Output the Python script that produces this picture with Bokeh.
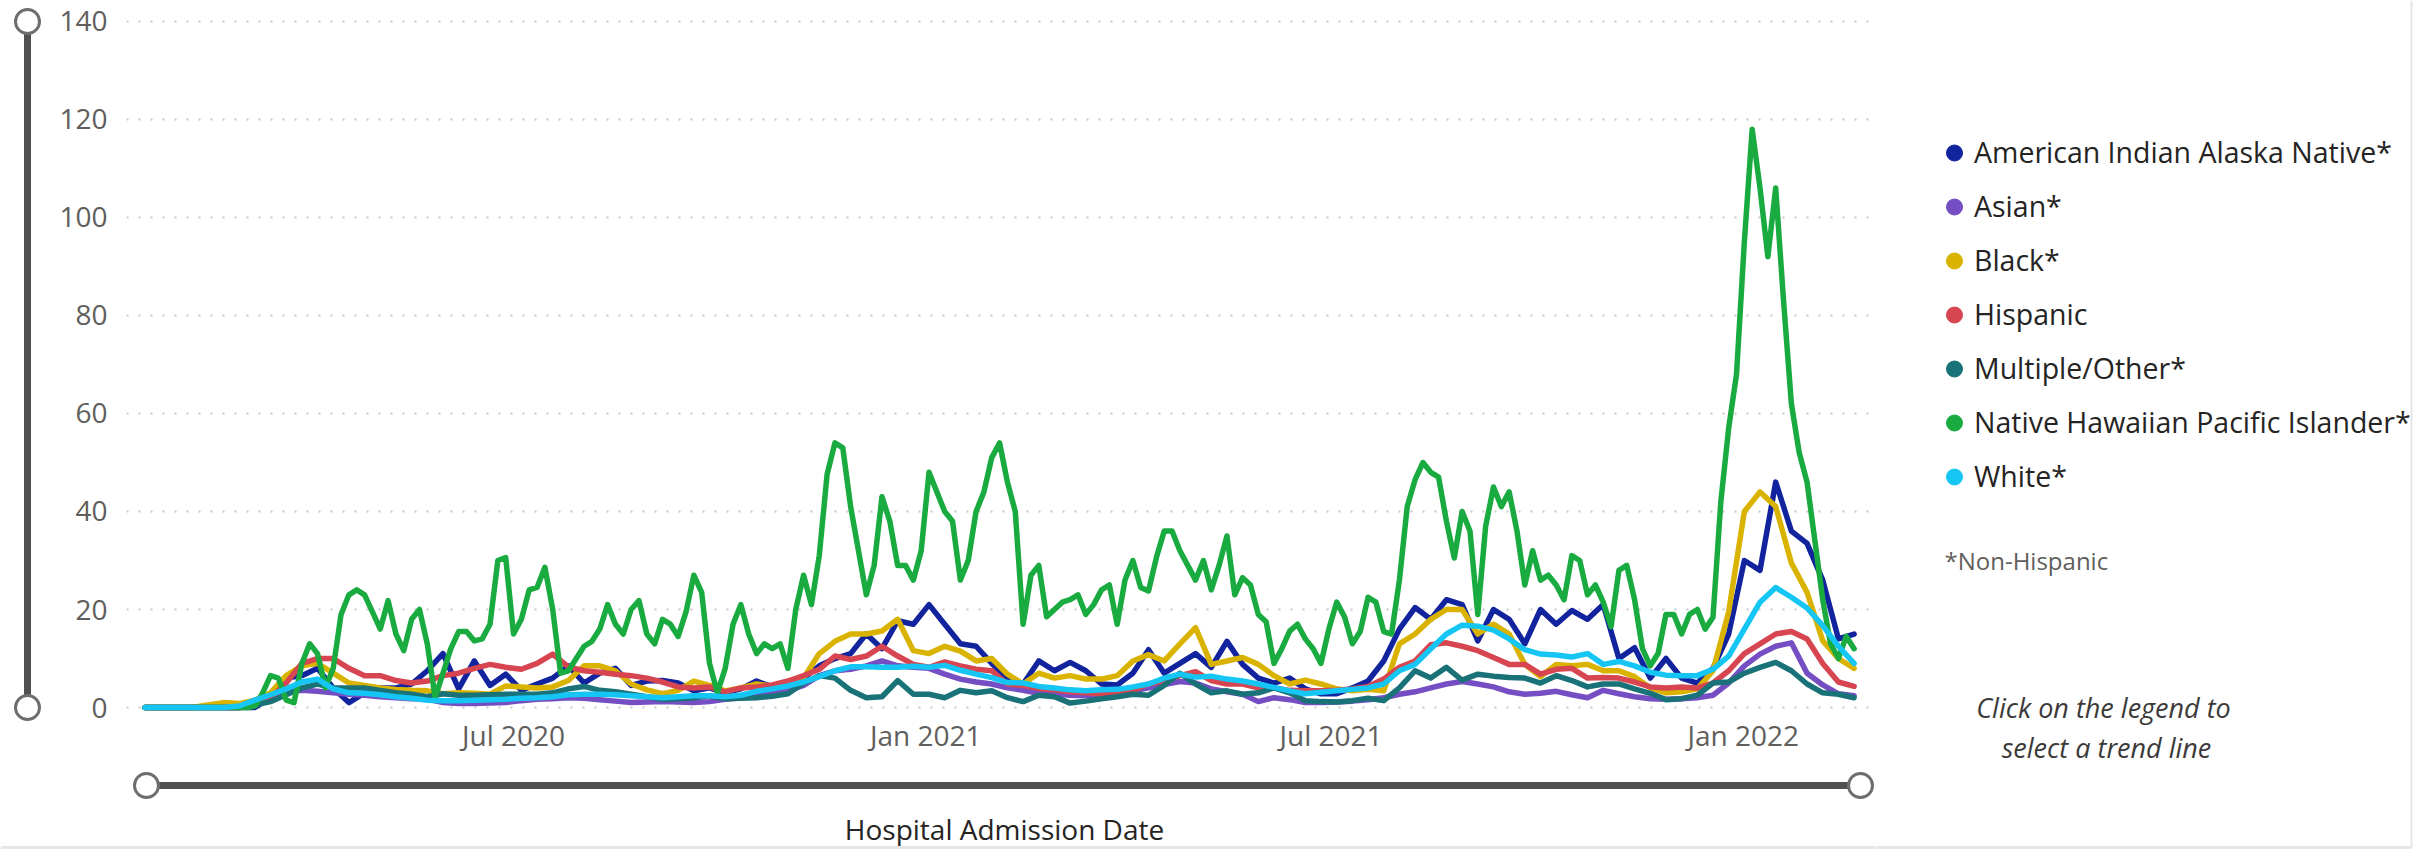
import pandas as pd
from bokeh.plotting import figure
from bokeh.models import (Range1d, FixedTicker, DatetimeTickFormatter, Legend,
                          LegendItem, ColumnDataSource)
from bokeh.layouts import row, column
from bokeh.embed import file_html
from bokeh.resources import INLINE
from bokeh.core.properties import value

FONT = "Open Sans"

# ---------------- data ----------------
series_names = ["American Indian Alaska Native*", "Asian*", "Black*", "Hispanic",
                "Multiple/Other*", "Native Hawaiian Pacific Islander*", "White*"]
series_colors = ["#12239E", "#744EC2", "#D9B300", "#D64550", "#197278", "#1AAB40", "#15C6F4"]

# weekly readings (starting 2020-01-18)
aian = [0, 0, 0, 0, 0, 0, 0, 0, 2, 6,
        6.5, 8, 4, 1, 3, 4, 4, 4.8, 7.5, 11,
        3.8, 9.5, 4.5, 6.8, 3.5, 4.8, 6, 8.5, 5, 7,
        8, 4.5, 5.4, 5.5, 5, 3.4, 4, 3, 3.8, 5.4,
        4.2, 4.2, 6, 8.5, 10, 11, 15, 12, 17.7, 17,
        21, 17, 13, 12.5, 9, 6, 4.8, 9.5, 7.5, 9.2,
        7.5, 4.8, 4.6, 7, 11.8, 7, 9, 11, 8.2, 13.5,
        8.8, 6, 5, 6, 3.8, 2.8, 2.8, 4, 5.4, 9.5,
        16, 20.4, 18, 22, 21, 13.6, 20, 18, 13, 20,
        17, 19.8, 18, 21, 10, 12.2, 6, 10, 6, 5,
        8, 15, 30, 28, 46, 36, 33.5, 26, 14, 15]
asian = [0, 0, 0, 0, 0, 0, 0, 1.5, 2.5, 3.2,
         3.5, 3.3, 3, 2.7, 2.5, 2.2, 2, 1.8, 1.7, 1,
         0.8, 0.8, 0.9, 1, 1.4, 1.7, 1.8, 2, 1.9, 1.6,
         1.3, 1, 1.1, 1.2, 1.1, 1, 1.2, 1.7, 2, 2.7,
         3, 3.4, 4.5, 6.5, 7.5, 7.8, 8.5, 9.5, 8.5, 8.2,
         8, 6.8, 5.8, 5.2, 4.8, 4, 3.5, 2.9, 2.7, 2.5,
         2.4, 2.5, 2.6, 3.4, 4, 4.7, 5.3, 5, 3.8, 3.2,
         2.7, 1.2, 2, 1.6, 1, 1, 1.1, 1.3, 1.6, 2,
         2.7, 3.2, 4, 4.8, 5.3, 4.8, 4.2, 3.2, 2.7, 2.9,
         3.3, 2.6, 2, 3.5, 2.8, 2.2, 1.8, 1.7, 1.8, 2,
         2.5, 5, 8.5, 10.9, 12.5, 13.2, 7, 4.6, 2.8, 2.4]
black = [0, 0, 0, 0, 0.5, 1, 0.8, 1.5, 3, 6.5,
         8.5, 9, 7, 5, 4.5, 4, 3.7, 3.5, 3.4, 2.8,
         3, 2.9, 2.7, 4.4, 4.2, 4, 4.2, 5.5, 8.5, 8.5,
         7.5, 4.8, 3.6, 2.8, 3.5, 5.4, 4.5, 3.4, 4, 4.8,
         4.4, 4.8, 6, 11, 13.5, 15, 15, 15.6, 18, 11.6,
         11, 12.5, 11.5, 9.5, 10, 6.8, 4.8, 7, 6, 6.5,
         5.8, 5.8, 6.5, 9.5, 10.8, 9.5, 13, 16.3, 8.8, 9.5,
         10.2, 8.8, 6.5, 4.8, 5.6, 4.8, 3.8, 3.4, 3.7, 3.4,
         13, 15, 18, 20, 20, 15, 17, 15, 8.8, 6.3,
         8.8, 8.5, 8.8, 7.5, 7.5, 6.3, 4, 3, 3.2, 3.8,
         7.5, 19.5, 40, 44, 41, 29.5, 23.5, 13.6, 10, 8]
hispanic = [0, 0, 0, 0, 0, 0, 0, 0.5, 2, 5,
            9, 10, 10, 8, 6.5, 6.5, 5.5, 5, 5.4, 6.5,
            7, 8, 8.8, 8.2, 7.8, 9, 10.9, 8.3, 7.5, 7.2,
            6.8, 6.5, 6, 5.2, 4.2, 4, 4.2, 3.2, 4, 4.2,
            4.6, 5.4, 6.5, 7.8, 10.5, 9.8, 10.5, 12.5, 10.5, 8.8,
            8.2, 9.3, 8.5, 7.8, 7.5, 4.8, 4.5, 3.9, 3.6, 3.2,
            3, 2.8, 2.8, 3.5, 4.8, 5.5, 6.5, 7.3, 5.5, 4.8,
            4.8, 4, 4, 3.5, 3.4, 3.4, 3.5, 3.8, 4.3, 5.8,
            8.2, 9.5, 12.8, 13.2, 12.5, 11.6, 10.2, 8.8, 8.8, 6.8,
            7.8, 8, 6, 6.1, 6, 5.2, 4.2, 4, 4.2, 4,
            5, 7.5, 11, 13, 15, 15.5, 14, 9, 5.2, 4.3]
multiple_other = [0, 0, 0, 0, 0, 0, 0, 0.5, 1.2, 2.6,
                  4, 4.8, 4, 4, 4, 3.5, 3, 2.7, 2.2, 2.8,
                  2.5, 2.5, 2.6, 2.7, 2.7, 2.7, 3, 3.8, 4.3, 3.5,
                  3.2, 2.7, 2.2, 1.7, 1.8, 2, 2.4, 1.8, 1.9, 2,
                  2.3, 2.8, 5, 6.5, 6, 3.5, 2, 2.2, 5.5, 2.7,
                  2.7, 2, 3.5, 3, 3.4, 2, 1.2, 2.5, 2.2, 0.9,
                  1.3, 1.8, 2.2, 2.7, 2.5, 4.5, 7, 4.8, 3, 3.4,
                  2.7, 3, 4, 3, 1.4, 1.2, 1.1, 1.4, 1.9, 1.4,
                  4, 7.5, 6, 8.2, 5.6, 6.8, 6.4, 6.1, 6, 5,
                  6.5, 5.5, 4.2, 4.8, 4.8, 3.8, 2.9, 1.6, 1.8, 2.5,
                  5, 5.2, 7, 8.2, 9.2, 7.5, 4.8, 3, 2.7, 2]
white = [0, 0, 0, 0, 0, 0, 0.3, 1.5, 2.6, 3.8,
         5.2, 5.8, 3.8, 3, 2.9, 2.6, 2.2, 1.9, 1.5, 1.4,
         1.4, 1.5, 1.6, 1.7, 1.9, 2, 2.2, 2.6, 2.7, 2.7,
         2.6, 2.4, 2.2, 2, 2.2, 2.4, 2.4, 2.2, 2.5, 3.3,
         3.8, 4.4, 5.2, 6.3, 7.5, 8.3, 8.3, 8.2, 8.2, 8.4,
         8.2, 8.6, 7.6, 6.8, 6.1, 5.1, 5, 4.3, 4, 3.6,
         3.4, 3.6, 3.7, 4.2, 4.8, 6, 6.8, 6.2, 6.4, 5.8,
         5.4, 4.8, 4.1, 3.4, 2.8, 3.1, 3.4, 3.7, 4, 4.8,
         7.5, 8.8, 12, 15, 16.8, 16.6, 15.8, 14, 11.8, 10.9,
         10.7, 10.3, 11, 8.8, 9.4, 8.5, 7.2, 6.6, 6.5, 6.5,
         7.8, 10.5, 16, 21.5, 24.5, 22.5, 20.3, 16.7, 12.5, 9]
# half-weekly readings (every 3.5 days, starting 2020-01-18)
nhpi = [0, 0, 0, 0, 0, 0, 0, 0, 0, 0,
        0, 0, 0, 0, 0.3, 3, 6.5, 6, 1.5, 1,
        9, 13, 11, 4, 8, 19, 23, 24, 23, 19.5,
        16, 21.8, 15, 11.6, 18, 20, 13, 2, 7, 12,
        15.5, 15.5, 13.6, 14, 17, 30, 30.6, 15, 18, 24,
        24.5, 28.6, 20, 7, 7.5, 10, 12.5, 13.5, 16, 21,
        17, 15, 20, 21.8, 15, 13, 18, 17, 14.5, 19.5,
        27, 23.5, 9, 3, 8, 17, 21, 15, 11, 13,
        12, 13, 8, 20, 27, 21, 31, 47.6, 54, 53,
        41, 32, 23, 29, 43, 38, 29, 29, 26, 32,
        48, 44, 40, 38, 26, 30, 40, 44, 51, 54,
        46, 40, 17, 27, 29, 18.5, 20, 21.5, 22, 23,
        19, 21, 24, 25, 17, 26, 30, 24.5, 23.8, 30.6,
        36, 36, 32, 29, 26, 30, 24, 29, 35, 23,
        26.5, 25, 19, 17.5, 9, 12, 15.6, 17, 14, 12,
        9, 16, 21.5, 18.5, 13, 15.5, 22.5, 21.5, 15.5, 15,
        26, 41, 46.5, 50, 48, 47, 38, 30.5, 40, 36,
        19, 37, 45, 41, 44, 36, 25, 32, 26, 27,
        25, 22, 31, 30, 23, 25, 21.5, 16.5, 28, 29,
        22, 12, 8.5, 11, 19, 19, 15, 19, 20, 16,
        18.4, 42, 57, 68, 95, 118, 106, 92, 106, 83,
        62, 52, 46, 34, 22, 13, 10, 14.5, 12]

tick_dates = ["2020-07-01", "2021-01-01", "2021-07-01", "2022-01-01"]
tick_labels = ["Jul 2020", "Jan 2021", "Jul 2021", "Jan 2022"]
y_ticks = [0, 20, 40, 60, 80, 100, 120, 140]

x_title = "Hospital Admission Date"
footnote = "*Non-Hispanic"
hint_lines = ["Click on the legend to", "select a trend line"]

weekly_dates = pd.date_range("2020-01-18 12:00", periods=len(aian), freq="7D")
nhpi_dates = pd.date_range("2020-01-18 12:00", periods=len(nhpi), freq="84h")

# ---------------- layout constants (page pixels) ----------------
ROW_H = 760
TOP_B, BOT_B = 4, 39            # shared top / bottom borders of the chart row
FRAME_TOP, FRAME_BOT = TOP_B, ROW_H - BOT_B   # 4 .. 721
SLIDER_COLOR = "#505050"
KNOB_LINE = "#6E6E6E"
BORDER = "#E6E6E6"


def blank_fig(w, h, x0, y_top, y_bot, top=0, bottom=0):
    f = figure(width=w, height=h, x_range=Range1d(x0, x0 + w),
               y_range=Range1d(y_bot, y_top),
               x_axis_location=None, y_axis_location=None,
               min_border_left=0, min_border_right=0,
               min_border_top=top, min_border_bottom=bottom,
               outline_line_color=None, toolbar_location=None, output_backend="svg",
               background_fill_color="white", border_fill_color="white")
    f.grid.visible = False
    return f


# ---------------- left (vertical) slider ----------------
left = blank_fig(50, ROW_H, 0, FRAME_TOP, FRAME_BOT, TOP_B, BOT_B)
left.segment(x0=[27], y0=[21], x1=[27], y1=[707], line_width=7, line_color=SLIDER_COLOR)
left.scatter(x=[27, 27], y=[21, 707], marker="circle", size=24,
             fill_color="white", line_color=KNOB_LINE, line_width=3)

# ---------------- main chart ----------------
main = figure(width=1826, height=ROW_H, x_axis_type="datetime",
              x_range=Range1d(pd.Timestamp("2020-01-10 05:00"), pd.Timestamp("2022-03-01 12:00")),
              y_range=Range1d(-2.857, 143.469),
              min_border_left=76, min_border_right=0,
              min_border_top=TOP_B, min_border_bottom=BOT_B,
              outline_line_color=None, toolbar_location=None, output_backend="svg",
              background_fill_color="white", border_fill_color="white")

all_values = [aian, asian, black, hispanic, multiple_other, nhpi, white]
for name, color, vals in zip(series_names, series_colors, all_values):
    dates = nhpi_dates if vals is nhpi else weekly_dates
    src = ColumnDataSource(dict(date=dates, value=vals))
    main.line("date", "value", source=src, line_color=color, line_width=5.5,
              line_join="round", line_cap="round")

tick_ms = [int(pd.Timestamp(d).value // 10**6) for d in tick_dates]
main.xaxis.ticker = FixedTicker(ticks=tick_ms)
fmt = "%b %Y"
main.xaxis.formatter = DatetimeTickFormatter(days=fmt, months=fmt, years=fmt,
                                             hours=fmt, hourmin=fmt)
main.xaxis.major_label_overrides = {ms: lab for ms, lab in zip(tick_ms, tick_labels)}
main.yaxis.ticker = FixedTicker(ticks=y_ticks)

for ax in (main.xaxis, main.yaxis):
    ax.axis_line_color = None
    ax.major_tick_line_color = None
    ax.minor_tick_line_color = None
    ax.major_tick_out = 0
    ax.major_tick_in = 0
    ax.major_label_text_font = FONT
    ax.major_label_text_font_size = "28px"
    ax.major_label_text_color = "#605E5C"
main.yaxis.major_label_standoff = 19
main.xaxis.major_label_standoff = -6

main.xgrid.grid_line_color = None
main.ygrid.grid_line_color = "#C8C8C8"
main.ygrid.grid_line_width = 2
main.ygrid.grid_line_dash = "2 10"

# ---------------- bottom (horizontal) slider + axis title ----------------
bottom = blank_fig(1876, 90, 0, 760, 850)
bottom.segment(x0=[146], y0=[785], x1=[1860], y1=[785], line_width=7, line_color=SLIDER_COLOR)
bottom.scatter(x=[146, 1860], y=[785, 785], marker="circle", size=24,
               fill_color="white", line_color=KNOB_LINE, line_width=3)
bottom.text(x=[1004], y=[828], text=[x_title], text_font=value(FONT), text_font_size="28px",
            text_color="#252423", text_align="center", text_baseline="middle")
bottom.segment(x0=[0], y0=[847], x1=[1876], y1=[847], line_color=BORDER, line_width=3)

# ---------------- legend panel (full height) ----------------
leg = blank_fig(546, 850, 1876, 0, 850)
items = []
for name, color in zip(series_names, series_colors):
    # one hidden point (outside the visible range) so the legend can draw its marker
    r = leg.scatter(x=[1900], y=[-500], marker="circle", size=16,
                    fill_color=color, line_color=color)
    items.append(LegendItem(label=name, renderers=[r]))
legend = Legend(items=items, location=(58, 351.5), glyph_width=40, glyph_height=45,
                label_height=45, spacing=9, label_standoff=0, padding=0, margin=0,
                border_line_color=None, background_fill_alpha=0,
                label_text_font=FONT, label_text_font_size="28.5px",
                label_text_color="#252423")
leg.add_layout(legend)

leg.text(x=[1944], y=[560], text=[footnote], text_font=value(FONT), text_font_size="24px",
         text_color="#605E5C", text_align="left", text_baseline="middle")
leg.text(x=[2103, 2106], y=[707, 747], text=hint_lines, text_font=value(FONT),
         text_font_size="27px", text_font_style="italic", text_color="#3B3A39",
         text_align="center", text_baseline="middle")
leg.segment(x0=[2411], y0=[0], x1=[2411], y1=[847], line_color=BORDER, line_width=2)
leg.segment(x0=[1876], y0=[847], x1=[2411], y1=[847], line_color=BORDER, line_width=3)

layout = row(column(row(left, main), bottom), leg)

with open("out.html", "w") as fh:
    fh.write(file_html(layout, INLINE))
